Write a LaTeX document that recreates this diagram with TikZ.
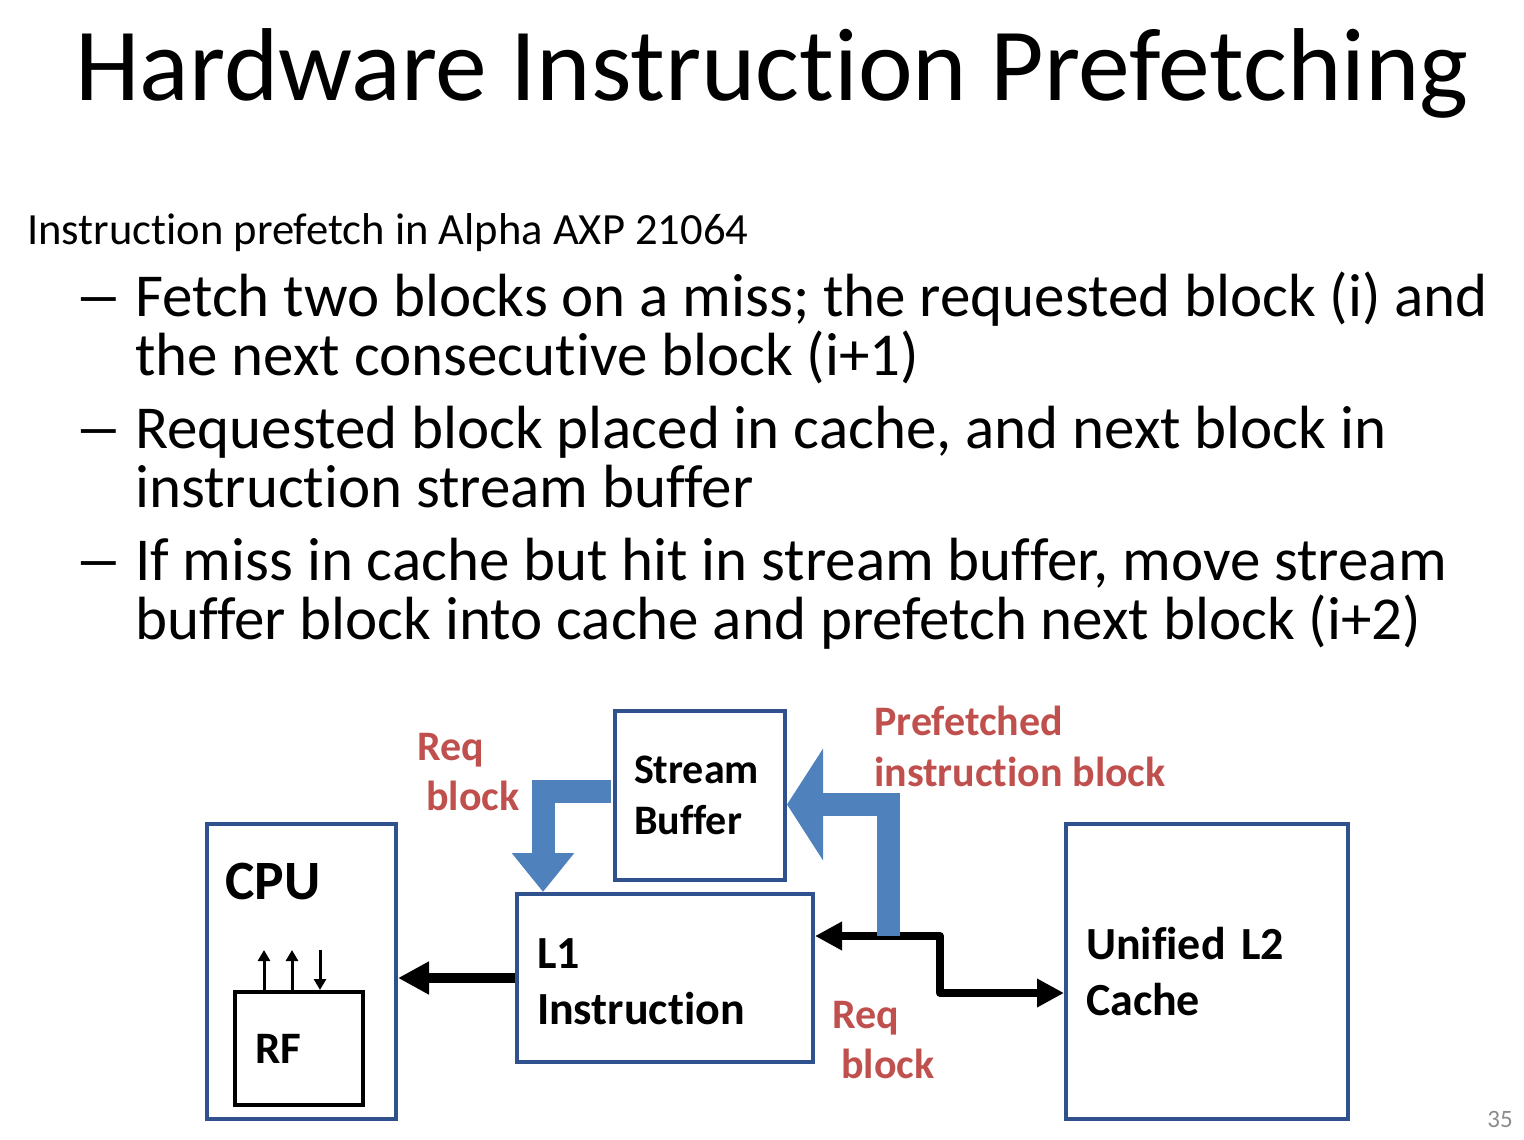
\documentclass[tikz,border=0pt]{standalone}
\usepackage{fontspec}
\setmainfont{Carlito}[Ligatures={TeX,NoCommon}]
\usetikzlibrary{positioning,arrows.meta}
\definecolor{cBox}{HTML}{2F528F}
\definecolor{cFlow}{HTML}{4F81BD}
\definecolor{cNote}{HTML}{C0504D}
\definecolor{cPage}{HTML}{8C8C8C}
\newcommand{\twolines}[3][0pt]{\vtop{\hbox{#2}\hbox{\hspace*{#1}#3}}}
\newcommand{\dashmark}{\makebox[55pt][l]{\hspace*{-6pt}\scalebox{1.6}[1]{–}}}

\begin{document}
\begin{tikzpicture}[x=1pt,y=-1pt,every node/.style={inner sep=0pt},
    unit/.style={draw=cBox,line width=4pt,align=left,inner xsep=20pt,
                 font=\bfseries\fontsize{46}{56}\selectfont},
    note/.style={anchor=base west,text=cNote,font=\bfseries\fontsize{42}{50}\selectfont},
    bullet/.style={anchor=base west,font=\fontsize{61}{59}\selectfont},
    wire/.style={line width=8pt,line join=round},
    flow/.style={draw=cFlow,line width=23pt}]
    \fill[white] (0,0) rectangle (1524,1140);
    \useasboundingbox (0,0) rectangle (1524,1140);

    \node[anchor=base west,font=\fontsize{103.6}{110}\selectfont] (title) at (75,100)
      {Hardware Instruction Prefetching};
    \node[anchor=base west,font=\fontsize{44.6}{50}\selectfont] (intro) at (27,244)
      {Instruction prefetch in Alpha AXP 21064};
    \node[bullet] (b1) at (80,316) {\dashmark\twolines
      {Fetch two blocks on a miss; the requested block (i) and}{the next consecutive block (i+1)}};
    \node[bullet] (b2) at (80,448) {\dashmark\twolines
      {Requested block placed in cache, and next block in}{instruction stream buffer}};
    \node[bullet] (b3) at (80,580) {\dashmark\twolines
      {If miss in cache but hit in stream buffer, move stream}{buffer block into cache and prefetch next block (i+2)}};

    % memory units
    \node[unit,text width=132pt,inner xsep=19pt,minimum height=169pt,
          font=\bfseries\fontsize{42}{51}\selectfont] (sb) at (700,795.5) {Stream\\Buffer};
    \node[unit,text width=256pt,minimum height=168pt] (l1) at (665,978) {\rule{0pt}{37pt}L1\\Instruction};
    \node[unit,minimum width=189pt,minimum height=295pt] (cpu) at (301.5,971.5) {};
    \node[unit,text width=242pt,minimum height=295pt] (l2) at (1207,971.5) {Unified L2\\Cache};
    \node[anchor=base west,font=\bfseries\fontsize{55.5}{60}\selectfont] (cpuname) at (225,899) {CPU};
    \node[draw,line width=4pt,align=left,text width=88pt,inner xsep=20pt,minimum height=113pt,
          font=\bfseries\fontsize{45}{51}\selectfont] (rf) at (299,1048.5) {RF};

    % register file ports
    \foreach \dx in {-35,-7}
      \draw[line width=3pt,-{Triangle[length=11pt,width=12pt]}] ([xshift=\dx pt]rf.north) -- ++(0,-40);
    \draw[line width=3pt,{Triangle[length=11pt,width=12pt]}-] ([xshift=21pt]rf.north) -- ++(0,-40);

    % block transfers
    \draw[wire,line width=10pt,-{Triangle[length=31pt,width=31pt]}] (l1.west) -- (l1.west -| cpu.east);
    \coordinate (bend) at (940,936);
    \coordinate (tap) at (888,936);
    \draw[wire,{Triangle[length=27pt,width=27pt]}-{Triangle[length=27pt,width=27pt]}]
      ([yshift=42pt]l1.east) -- (bend) |- ([yshift=-21.5pt]l2.west);
    \draw[flow,-{Triangle[length=36pt,width=110pt]}] (tap) |- ([yshift=-9pt]sb.east);
    \draw[flow,-{Triangle[length=39pt,width=60pt]},shorten <=2pt] ([yshift=4pt]sb.west) -| ([xshift=28pt]l1.north west);

    \node[note] (reqsb) at (417,760) {\twolines[9pt]{Req}{block}};
    \node[note,font=\bfseries\fontsize{42}{51}\selectfont] (prefnote) at (874,735)
      {\twolines{Prefetched}{instruction block}};
    \node[note] (reql2) at (832,1028) {\twolines[9pt]{Req}{block}};

    \node[anchor=base east,text=cPage,font=\fontsize{25}{30}\selectfont] (pgno) at (1513,1127) {35};
\end{tikzpicture}
\end{document}
